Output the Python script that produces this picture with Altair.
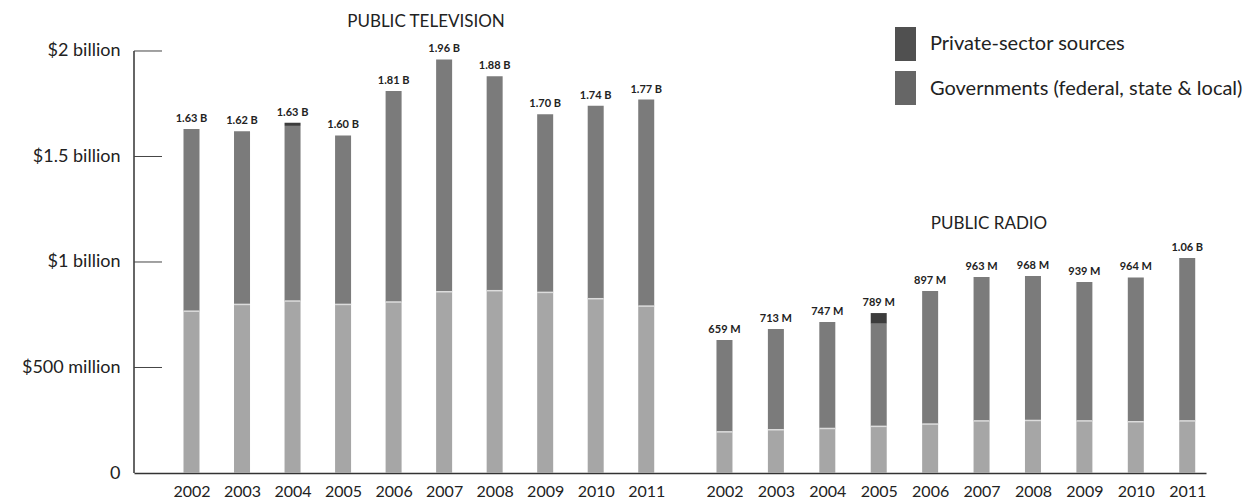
import altair as alt
import pandas as pd

# ---------------- data ----------------
years = list(range(2002, 2012))

tv_gov = [0.767, 0.799, 0.815, 0.799, 0.810, 0.859, 0.864, 0.856, 0.826, 0.791]
tv_private = [0.863, 0.821, 0.830, 0.801, 1.000, 1.101, 1.016, 0.844, 0.914, 0.979]
tv_other = [0, 0, 0.015, 0, 0, 0, 0, 0, 0, 0]
tv_labels = ["1.63 B", "1.62 B", "1.63 B", "1.60 B", "1.81 B",
             "1.96 B", "1.88 B", "1.70 B", "1.74 B", "1.77 B"]

radio_gov = [0.195, 0.205, 0.211, 0.221, 0.232, 0.247, 0.249, 0.247, 0.243, 0.247]
radio_private = [0.435, 0.477, 0.505, 0.487, 0.631, 0.682, 0.685, 0.658, 0.684, 0.772]
radio_other = [0, 0, 0, 0.050, 0, 0, 0, 0, 0, 0]
radio_labels = ["659 M", "713 M", "747 M", "789 M", "897 M",
                "963 M", "968 M", "939 M", "964 M", "1.06 B"]

series_names = ["Governments (federal, state & local)", "Private-sector sources", "Other"]
series_colors = ["#a6a6a6", "#7b7b7b", "#3c3c3c"]

legend_names = ["Private-sector sources", "Governments (federal, state & local)"]
legend_colors = ["#505050", "#666666"]

y_tick_values = [0, 0.5, 1, 1.5, 2]
y_tick_labels = ["0", "$500 million", "$1 billion", "$1.5 billion", "$2 billion"]

FONT = "Lato"
TXT = "#222222"


def long_df(gov, priv, other):
    rows = []
    for i, yr in enumerate(years):
        for k, (name, vals) in enumerate(zip(series_names, [gov, priv, other])):
            rows.append({"year": yr, "series": name, "value": vals[i], "order": k})
    return pd.DataFrame(rows)


def totals_df(gov, priv, other, labels):
    return pd.DataFrame({
        "year": years,
        "gov": gov,
        "total": [g + p + o for g, p, o in zip(gov, priv, other)],
        "label": labels,
    })


label_expr = " : ".join(
    f"datum.value == {v} ? '{t}'" for v, t in zip(y_tick_values, y_tick_labels)
) + " : ''"

y_axis = alt.Axis(values=y_tick_values, labelExpr=label_expr, domain=False, ticks=False,
                  grid=False, title=None, labelPadding=14, labelFontSize=18,
                  labelFont=FONT, labelColor=TXT)
y_scale = alt.Scale(domain=[0, 2.2417], nice=False, zero=True)

color_scale = alt.Scale(domain=series_names, range=series_colors)


def panel(gov, priv, other, labels, domain, show_domain):
    xs = alt.Scale(domain=domain, nice=False, zero=False)
    xaxis = alt.Axis(values=years, format="d", ticks=False, grid=False, title=None,
                     orient="bottom", domain=show_domain, domainColor="#333333",
                     domainWidth=1.5, labelPadding=10, labelFontSize=16,
                     labelFont=FONT, labelColor=TXT, labelOverlap=False, labelFlush=False)
    bars = alt.Chart(long_df(gov, priv, other)).mark_bar(size=16).encode(
        x=alt.X("year:Q", scale=xs, axis=xaxis),
        y=alt.Y("value:Q", stack="zero", scale=y_scale, axis=y_axis),
        color=alt.Color("series:N", scale=color_scale, legend=None),
        order=alt.Order("order:Q"),
    )
    tdf = totals_df(gov, priv, other, labels)
    seam = alt.Chart(tdf).mark_tick(orient="horizontal", size=16, thickness=1.5,
                                    color="#dcdcdc", opacity=1).encode(
        x=alt.X("year:Q", scale=xs, axis=xaxis),
        y=alt.Y("gov:Q", scale=y_scale, axis=y_axis),
    )
    text = alt.Chart(tdf).mark_text(
        baseline="bottom", dy=-5, font=FONT, fontWeight="bold",
        fontSize=11, color=TXT
    ).encode(
        x=alt.X("year:Q", scale=xs, axis=xaxis),
        y=alt.Y("total:Q", scale=y_scale, axis=y_axis),
        text="label:N",
    )
    return alt.layer(bars, seam, text)


tv = panel(tv_gov, tv_private, tv_other, tv_labels, [2000.961, 2021.98], True)
radio = panel(radio_gov, radio_private, radio_other, radio_labels, [1990.613, 2011.268], False)

# y-axis line and inward ticks
axis_line = alt.Chart(pd.DataFrame({"value": [0], "value2": [2]})).mark_rule(
    color="#333333", strokeWidth=1.5
).encode(y=alt.Y("value:Q", scale=y_scale, axis=y_axis), y2="value2:Q", x=alt.value(0))

axis_ticks = alt.Chart(pd.DataFrame({"value": y_tick_values[1:]})).mark_rule(
    color="#444444", strokeWidth=1
).encode(y=alt.Y("value:Q", scale=y_scale, axis=y_axis), x=alt.value(0), x2=alt.value(28))

# panel titles
tv_title = alt.Chart(pd.DataFrame({"t": ["PUBLIC TELEVISION"]})).mark_text(
    font=FONT, fontSize=17, color=TXT, align="center", baseline="middle"
).encode(text="t:N", x=alt.value(292), y=alt.value(22))

radio_title = alt.Chart(pd.DataFrame({"t": ["PUBLIC RADIO"]})).mark_text(
    font=FONT, fontSize=17, color=TXT, align="center", baseline="middle"
).encode(text="t:N", x=alt.value(855), y=alt.value(224))

# legend
leg_sq1 = alt.Chart(pd.DataFrame({"n": [legend_names[0]]})).mark_rect(
    color=legend_colors[0]).encode(x=alt.value(761), x2=alt.value(782),
                                   y=alt.value(27), y2=alt.value(61))
leg_sq2 = alt.Chart(pd.DataFrame({"n": [legend_names[1]]})).mark_rect(
    color=legend_colors[1]).encode(x=alt.value(761), x2=alt.value(782),
                                   y=alt.value(71), y2=alt.value(105))
leg_t1 = alt.Chart(pd.DataFrame({"n": [legend_names[0]]})).mark_text(
    font=FONT, fontSize=20, color=TXT, align="left", baseline="middle"
).encode(text="n:N", x=alt.value(796), y=alt.value(44))
leg_t2 = alt.Chart(pd.DataFrame({"n": [legend_names[1]]})).mark_text(
    font=FONT, fontSize=20, color=TXT, align="left", baseline="middle"
).encode(text="n:N", x=alt.value(796), y=alt.value(89))

chart = alt.layer(
    tv, radio, axis_line, axis_ticks, tv_title, radio_title,
    leg_sq1, leg_sq2, leg_t1, leg_t2
).resolve_scale(x="independent").resolve_axis(x="independent").properties(
    width=1072, height=473,
    autosize=alt.AutoSizeParams(type="none"),
    padding={"left": 134, "top": 0, "right": 54, "bottom": 27},
    background="white",
).configure_view(stroke=None)

chart.save("out.html", embed_options={"renderer": "svg", "actions": False})
